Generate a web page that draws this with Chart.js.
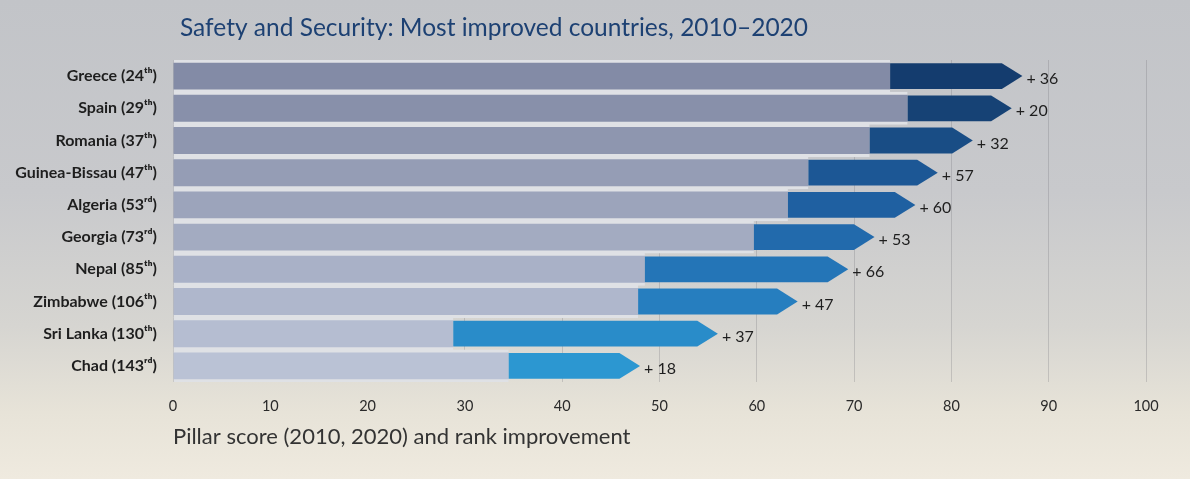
<!DOCTYPE html>
<html>
<head>
<meta charset="utf-8">
<script src="https://cdn.jsdelivr.net/npm/chart.js@4.4.0/dist/chart.umd.min.js"></script>
<style>
  html, body { margin: 0; padding: 0; }
  body {
    width: 1190px; height: 479px; overflow: hidden;
    background: linear-gradient(180deg, #c2c4c8 0%, #c8c9cc 40%, #d6d5d1 68%, #e7e3d8 86%, #efeadf 100%);
  }
</style>
</head>
<body>
<canvas id="chart" width="1190" height="479"></canvas>
<script>
const countries = ["Greece", "Spain", "Romania", "Guinea-Bissau", "Algeria", "Georgia", "Nepal", "Zimbabwe", "Sri Lanka", "Chad"];
const ranks2020 = ["24ᵗʰ", "29ᵗʰ", "37ᵗʰ", "47ᵗʰ", "53ʳᵈ", "73ʳᵈ", "85ᵗʰ", "106ᵗʰ", "130ᵗʰ", "143ʳᵈ"];
const score2010 = [73.7, 75.5, 71.6, 65.3, 63.2, 59.7, 48.5, 47.8, 28.8, 34.5];
const score2020 = [87.3, 86.2, 82.2, 78.6, 76.3, 72.1, 69.4, 64.2, 56.0, 48.0];
const rankGain = [36, 20, 32, 57, 60, 53, 66, 47, 37, 18];
const xTicks = [0, 10, 20, 30, 40, 50, 60, 70, 80, 90, 100];

const grayColors = ["#838ba6", "#8890aa", "#8e96af", "#959db5", "#9ca4bb", "#a3abc1", "#a9b1c7", "#afb7cc", "#b5bdd1", "#bac2d5"];
const blueColors = ["#143c6e", "#164275", "#194d85", "#1c5795", "#1f60a1", "#226aac", "#2475b7", "#267ebf", "#298cc9", "#2c97d1"];

const titleText = "Safety and Security: Most improved countries, 2010–2020";
const FONT = "Lato, 'Open Sans', sans-serif";

// blue arrows from 2010 to 2020 score, with the rank gain after the tip
const arrowPlugin = {
  id: "arrows",
  beforeDatasetDraw(chart, args) {
    if (args.index !== 1) return;
    const ctx = chart.ctx;
    ctx.save();
    args.meta.data.forEach((bar, i) => {
      const p = bar.getProps(["x", "y", "base", "height"], true);
      const top = p.y - p.height / 2, bottom = p.y + p.height / 2;
      const head = p.height * 0.8;
      ctx.beginPath();
      ctx.moveTo(p.base, top);
      ctx.lineTo(p.x - head, top);
      ctx.lineTo(p.x, p.y);
      ctx.lineTo(p.x - head, bottom);
      ctx.lineTo(p.base, bottom);
      ctx.closePath();
      ctx.fillStyle = blueColors[i];
      ctx.fill();

      ctx.fillStyle = "#1e1e1e";
      ctx.font = "16px " + FONT;
      ctx.textAlign = "left";
      ctx.textBaseline = "middle";
      ctx.fillText("+ " + rankGain[i], p.x + 4, p.y + 3);
    });
    ctx.restore();
    return false;
  },
  afterDraw(chart) {
    const ctx = chart.ctx;
    ctx.save();
    ctx.fillStyle = "#1d4173";
    ctx.font = "24.5px " + FONT;
    ctx.textAlign = "left";
    ctx.textBaseline = "middle";
    ctx.fillText(titleText, chart.chartArea.left + 7, 28);
    ctx.restore();
  }
};

new Chart(document.getElementById("chart").getContext("2d"), {
  type: "bar",
  data: {
    labels: countries.map((c, i) => c + " (" + ranks2020[i] + ")"),
    datasets: [
      {
        label: "2010",
        data: score2010.map(v => [0, v]),
        backgroundColor: grayColors,
        borderColor: "#dfe1e5",
        borderWidth: { top: 3, bottom: 3, left: 0, right: 0 },
        borderSkipped: false,
        barPercentage: 1,
        categoryPercentage: 1,
        grouped: false,
        order: 2,
      },
      {
        label: "2020",
        data: score2010.map((v, i) => [v, score2020[i]]),
        backgroundColor: blueColors,
        barPercentage: 0.8,
        categoryPercentage: 1,
        grouped: false,
        order: 1,
      },
    ],
  },
  options: {
    indexAxis: "y",
    responsive: false,
    animation: false,
    layout: { padding: { top: 60, right: 44, left: 0, bottom: 0 } },
    plugins: {
      legend: { display: false },
      title: { display: false },
      tooltip: { enabled: false },
    },
    scales: {
      x: {
        min: 0,
        max: 100,
        afterBuildTicks: scale => { scale.ticks = xTicks.map(v => ({ value: v })); },
        afterFit: scale => { scale.height = 97; },
        ticks: { color: "#2a2a2a", font: { family: FONT, size: 14.5 }, padding: 16 },
        grid: { color: "rgba(105,105,110,0.25)", drawTicks: false },
        border: { display: false },
        title: {
          display: true,
          text: "Pillar score (2010, 2020) and rank improvement",
          align: "start",
          color: "#333",
          font: { family: FONT, size: 22 },
          padding: { top: 0, bottom: 29 },
        },
      },
      y: {
        afterFit: scale => { scale.width = 173; },
        ticks: { color: "#1e1e1e", font: { family: FONT, size: 16, weight: "bold" }, padding: 8 },
        grid: { display: false },
        border: { display: false },
      },
    },
  },
  plugins: [arrowPlugin],
});
</script>
</body>
</html>
